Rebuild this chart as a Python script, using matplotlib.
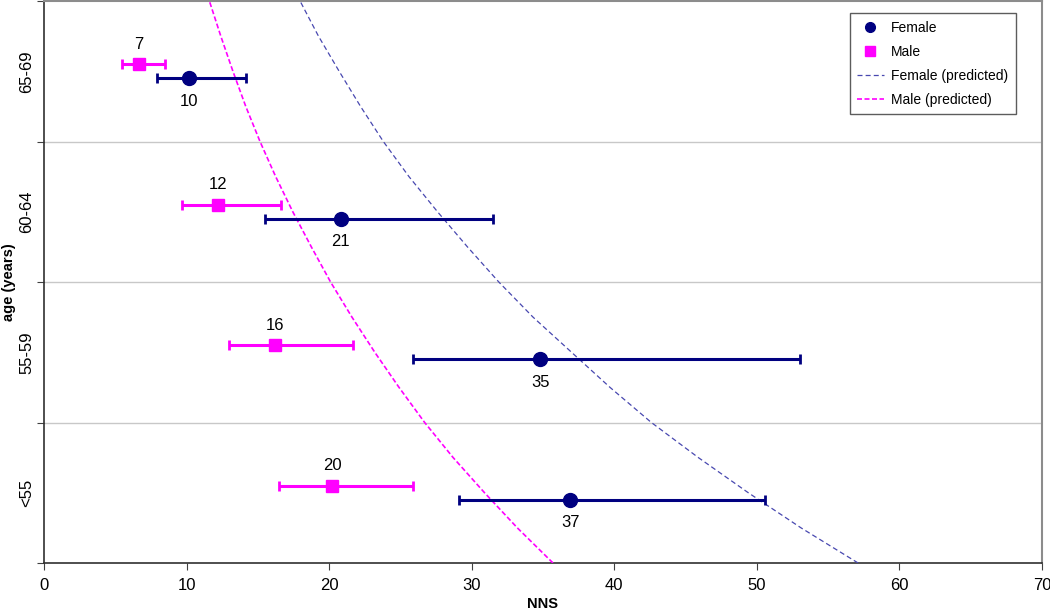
import numpy as np
import matplotlib.pyplot as plt
from matplotlib.lines import Line2D

plt.rcParams['font.family'] = ['Liberation Sans', 'DejaVu Sans']

# age groups, bottom to top
groups = ['<55', '55-59', '60-64', '65-69']

female_nns = [36.9, 34.8, 20.8, 10.2]
female_lo = [29.1, 25.9, 15.5, 7.95]
female_hi = [50.6, 53.0, 31.5, 14.15]
female_lbl = ['37', '35', '21', '10']

male_nns = [20.2, 16.2, 12.2, 6.66]
male_lo = [16.5, 13.0, 9.66, 5.45]
male_hi = [25.9, 21.65, 16.6, 8.5]
male_lbl = ['20', '16', '12', '7']

# predicted curves, read at quarter-category steps
pred_y = [0, 0.25, 0.5, 0.75, 1, 1.25, 1.5, 1.75, 2,
          2.25, 2.5, 2.75, 3, 3.25, 3.5, 3.75, 4]
female_pred = [57.1, 53.1, 49.4, 45.9, 42.6, 39.7, 37.0, 34.3, 31.9,
               29.7, 27.6, 25.6, 23.8, 22.2, 20.7, 19.25, 17.96]
male_pred = [35.7, 33.2, 30.9, 28.7, 26.7, 24.9, 23.2, 21.6, 20.1,
             18.75, 17.45, 16.25, 15.15, 14.15, 13.25, 12.4, 11.6]

navy = '#000080'
pink = '#ff00ff'
fem_pred_col = '#4848b0'

fig = plt.figure(figsize=(10.5, 6.13), dpi=100)
ax = fig.add_axes([44/1050, 50/613, 998/1050, 562/613])

ypos = np.arange(len(groups)) + 0.5
yf = ypos - 0.05
ym = ypos + 0.05

f = np.array(female_nns)
m = np.array(male_nns)
ferr = [f - np.array(female_lo), np.array(female_hi) - f]
merr = [m - np.array(male_lo), np.array(male_hi) - m]

ax.errorbar(f, yf, xerr=ferr, fmt='o', color=navy, ms=10, lw=2.2,
            capsize=3.5, capthick=2, zorder=4)
ax.errorbar(m, ym, xerr=merr, fmt='s', color=pink, ms=8.5, lw=2.2,
            capsize=3.5, capthick=2, zorder=4)
ax.plot(female_pred, pred_y, color=fem_pred_col, lw=0.9, ls=(0, (4, 2.5)), zorder=3)
ax.plot(male_pred, pred_y, color=pink, lw=1.2, ls=(0, (3, 1.5)), zorder=3)

for x, y, t in zip(f, yf, female_lbl):
    ax.annotate(t, (x, y), xytext=(0, -16.5), textcoords='offset points',
                ha='center', va='center', fontsize=12)
for x, y, t in zip(m, ym, male_lbl):
    ax.annotate(t, (x, y), xytext=(0, 14.5), textcoords='offset points',
                ha='center', va='center', fontsize=12)

ax.set_xlim(0, 70)
ax.set_ylim(0, 4)
ax.set_xticks(range(0, 71, 10))
ax.set_yticks([0, 1, 2, 3, 4])
ax.set_yticklabels([])
ax.set_yticks(ypos, minor=True)
ax.set_yticklabels(groups, minor=True, rotation=90, va='center')
ax.tick_params(axis='y', which='minor', length=0, labelsize=12, pad=7)
ax.tick_params(axis='y', which='major', length=5, color='#404040')
ax.tick_params(axis='x', length=5, labelsize=12, color='#404040', pad=6)

for yy in [1, 2, 3]:
    ax.axhline(yy, color='#c8c8c8', lw=1, zorder=1)

for s in ['left', 'bottom']:
    ax.spines[s].set_color('#303030')
    ax.spines[s].set_linewidth(1.2)
for s in ['top', 'right']:
    ax.spines[s].set_color('#8c8c8c')
    ax.spines[s].set_linewidth(1.5)

ax.set_xlabel('NNS', fontsize=10.5, fontweight='bold', va='center')
ax.xaxis.set_label_coords(0.5, -41/562)
ax.set_ylabel('age (years)', fontsize=10.5, fontweight='bold', va='center')
ax.yaxis.set_label_coords(-35/998, 0.5)

handles = [
    Line2D([], [], color=navy, marker='o', ls='none', ms=7),
    Line2D([], [], color=pink, marker='s', ls='none', ms=7),
    Line2D([], [], color=fem_pred_col, lw=0.9, ls=(0, (4, 2.5))),
    Line2D([], [], color=pink, lw=1.2, ls=(0, (3, 1.5))),
]
labels = ['Female', 'Male', 'Female (predicted)', 'Male (predicted)']
leg = ax.legend(handles, labels, loc='upper right',
                bbox_to_anchor=(1016/1050, 1 - 13/613),
                bbox_transform=fig.transFigure, fontsize=10, frameon=True,
                fancybox=False, edgecolor='#333333', handlelength=1.9,
                handletextpad=0.55, labelspacing=0.72, borderpad=0.55,
                borderaxespad=0)
leg.get_frame().set_linewidth(1)

fig.savefig('out.png', dpi=100)
